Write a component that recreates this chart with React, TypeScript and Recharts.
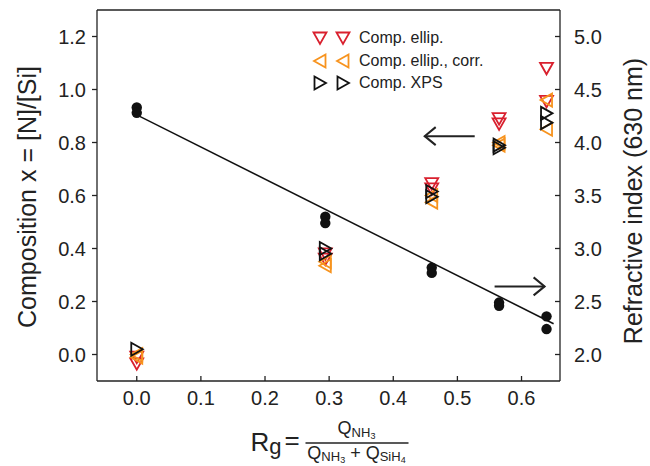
import { ComposedChart, Scatter, XAxis, YAxis, ReferenceLine, Legend } from 'recharts';

// Rg values of the five samples
const rg = [0, 0.294, 0.46, 0.565, 0.639];

// composition x = [N]/[Si], two measurements per sample (left axis)
const compEllip = [[-0.01, -0.035], [0.38, 0.36], [0.645, 0.625], [0.89, 0.87], [1.08, 0.955]];
const compEllipCorr = [[0.0, -0.01], [0.35, 0.335], [0.6, 0.575], [0.8, 0.79], [0.96, 0.85]];
const compXps = [[0.02], [0.4, 0.38], [0.615, 0.595], [0.79, 0.78], [0.91, 0.875]];

// refractive index at 630 nm (right axis)
const refIndex = [[4.33, 4.28], [3.3, 3.24], [2.82, 2.77], [2.49, 2.46], [2.36, 2.24]];

// linear fit of refractive index
const fitX = [0, 0.65];
const fitN = [4.26, 2.29];

const xTicks = [0, 0.1, 0.2, 0.3, 0.4, 0.5, 0.6];
const leftTicks = [0, 0.2, 0.4, 0.6, 0.8, 1.0, 1.2];
const rightTicks = [2.0, 2.5, 3.0, 3.5, 4.0, 4.5, 5.0];

const RED = '#d9202e';
const ORANGE = '#f7931e';
const BLACK = '#111';
const FONT = '"Liberation Sans", Arial, Helvetica, sans-serif';
const INK = '#222';

const toPoints = (cols: number[][]) => cols.flatMap((col, i) => col.map((y) => ({ x: rg[i], y })));
const fitData = fitX.map((x, i) => ({ x, y: fitN[i] }));

type Dir = 'down' | 'left' | 'right';

function triPoints(cx: number, cy: number, dir: Dir) {
  if (dir === 'down') return `${cx - 6.5},${cy - 5.5} ${cx + 6.5},${cy - 5.5} ${cx},${cy + 6}`;
  if (dir === 'left') return `${cx + 5.5},${cy - 6.5} ${cx + 5.5},${cy + 6.5} ${cx - 6},${cy}`;
  return `${cx - 5.5},${cy - 6.5} ${cx - 5.5},${cy + 6.5} ${cx + 6},${cy}`;
}

const triangle = (dir: Dir, color: string) => (p: any) => (
  <polygon points={triPoints(p.cx, p.cy, dir)} fill="none" stroke={color} strokeWidth={1.8} strokeLinejoin="miter" />
);

const series = [
  { name: 'Comp. ellip.', dir: 'down' as Dir, color: RED, data: toPoints(compEllip) },
  { name: 'Comp. ellip., corr.', dir: 'left' as Dir, color: ORANGE, data: toPoints(compEllipCorr) },
  { name: 'Comp. XPS', dir: 'right' as Dir, color: BLACK, data: toPoints(compXps) },
];

function LegendBox() {
  return (
    <div style={{ fontFamily: FONT, fontSize: 16, color: INK }}>
      {series.map((s) => (
        <div key={s.name} style={{ display: 'flex', alignItems: 'center', height: 22.5 }}>
          <svg width={46} height={22}>
            <polygon points={triPoints(12, 11, s.dir)} fill="none" stroke={s.color} strokeWidth={1.8} />
            <polygon points={triPoints(35, 11, s.dir)} fill="none" stroke={s.color} strokeWidth={1.8} />
          </svg>
          <span style={{ marginLeft: 5, whiteSpace: 'nowrap' }}>{s.name}</span>
        </div>
      ))}
    </div>
  );
}

function Arrow(p: any) {
  const dir = Math.sign(p.x2 - p.x1);
  return (
    <g stroke={INK} strokeWidth={2} fill="none">
      <line x1={p.x1} y1={p.y1} x2={p.x2} y2={p.y2} />
      <polyline points={`${p.x2 - dir * 11},${p.y2 - 9} ${p.x2},${p.y2} ${p.x2 - dir * 11},${p.y2 + 9}`} />
    </g>
  );
}

function FormulaLabel({ viewBox }: any) {
  const cx = viewBox.x + viewBox.width / 2;
  return (
    <g fontFamily={FONT} fill={INK}>
      <text x={cx - 78} y={451} fontSize={26}>
        R<tspan fontSize={22} dy={3}>g</tspan>
      </text>
      <text x={cx - 44} y={449} fontSize={26}>=</text>
      <line x1={cx - 23} x2={cx + 80} y1={443} y2={443} stroke={INK} strokeWidth={1.3} />
      <text x={cx + 28} y={434} fontSize={18} textAnchor="middle">
        Q<tspan fontSize={13} dy={3}>NH</tspan><tspan fontSize={9} dy={2}>3</tspan>
      </text>
      <text x={cx + 28} y={459} fontSize={18} textAnchor="middle">
        Q<tspan fontSize={13} dy={2}>NH</tspan><tspan fontSize={9} dy={1.5}>3</tspan>
        <tspan fontSize={18} dy={-3.5}> + Q</tspan>
        <tspan fontSize={13} dy={2}>SiH</tspan><tspan fontSize={9} dy={1.5}>4</tspan>
      </text>
    </g>
  );
}

function SideTitle({ x, y, text }: { x: number; y: number; text: string }) {
  return (
    <text x={x} y={y} transform={`rotate(-90, ${x}, ${y})`} textAnchor="middle" dominantBaseline="central"
      fontFamily={FONT} fontSize={25} fill={INK}>
      {text}
    </text>
  );
}

const tickStyle = { fill: INK, fontSize: 20, fontFamily: FONT };

export default function App() {
  return (
    <div style={{ position: 'absolute', left: 0, top: 0, width: 650, height: 466, background: '#fff' }}>
      <ComposedChart width={650} height={466} margin={{ top: 10, right: 0, bottom: 0, left: 0 }}>
        <XAxis
          dataKey="x" type="number" domain={[-0.062, 0.66]} ticks={xTicks} allowDataOverflow
          tickFormatter={(v: number) => v.toFixed(1)} tick={tickStyle}
          height={85} tickSize={-5} tickMargin={15}
          axisLine={{ stroke: INK, strokeWidth: 1.3 }} tickLine={{ stroke: INK, strokeWidth: 1.3 }}
          label={{ content: FormulaLabel }}
        />
        <YAxis
          yAxisId="left" dataKey="y" type="number" domain={[-0.1, 1.3]} ticks={leftTicks} allowDataOverflow
          tickFormatter={(v: number) => v.toFixed(1)} tick={tickStyle}
          width={97} tickSize={5} tickMargin={6}
          axisLine={{ stroke: INK, strokeWidth: 1.3 }} tickLine={{ stroke: INK, strokeWidth: 1.3 }}
          label={{ content: () => <SideTitle x={27} y={197} text="Composition x = [N]/[Si]" /> }}
        />
        <YAxis
          yAxisId="right" orientation="right" dataKey="y" type="number" domain={[1.75, 5.25]} ticks={rightTicks}
          allowDataOverflow tickFormatter={(v: number) => v.toFixed(1)} tick={tickStyle}
          width={90} tickSize={-5} tickMargin={19}
          axisLine={{ stroke: INK, strokeWidth: 1.3 }} tickLine={{ stroke: INK, strokeWidth: 1.3 }}
          label={{ content: () => <SideTitle x={633} y={201} text="Refractive index (630 nm)" /> }}
        />
        <ReferenceLine yAxisId="left" y={1.3} stroke={INK} strokeWidth={1.3} />

        <Scatter
          yAxisId="right" data={fitData} isAnimationActive={false}
          line={{ stroke: BLACK, strokeWidth: 1.5 }} shape={() => <g />} legendType="none"
        />
        <Scatter
          yAxisId="right" data={toPoints(refIndex)} isAnimationActive={false} legendType="none"
          shape={(p: any) => <circle cx={p.cx} cy={p.cy} r={5.2} fill={BLACK} />}
        />
        {series.map((s) => (
          <Scatter
            key={s.name} name={s.name} yAxisId="left" data={s.data} isAnimationActive={false}
            shape={triangle(s.dir, s.color)}
          />
        ))}

        <ReferenceLine
          yAxisId="left" segment={[{ x: 0.527, y: 0.824 }, { x: 0.449, y: 0.824 }]} shape={Arrow}
        />
        <ReferenceLine
          yAxisId="left" segment={[{ x: 0.558, y: 0.257 }, { x: 0.636, y: 0.257 }]} shape={Arrow}
        />

        <Legend
          layout="horizontal" verticalAlign="middle" align="center" content={() => <LegendBox />}
          wrapperStyle={{ position: 'absolute', top: 27, left: 308, width: 220, height: 70 }}
        />
      </ComposedChart>
    </div>
  );
}
